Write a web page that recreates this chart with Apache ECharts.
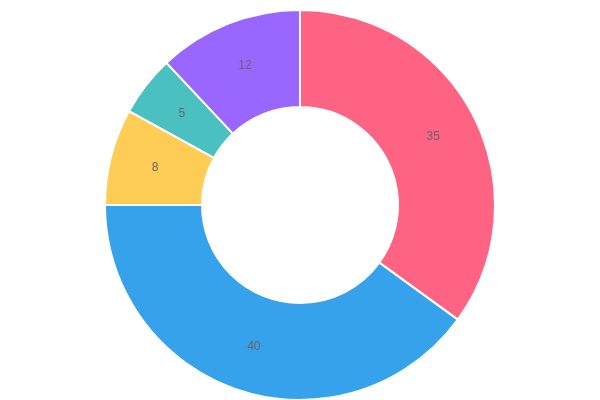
<!DOCTYPE html>
<html>
<head>
    <meta charset="utf-8"/>
    <title>ECharts</title>
    <script src="https://cdn.jsdelivr.net/npm/echarts@6/dist/echarts.min.js"></script>
    <style type="text/css">
        html, body { margin: 0; padding: 0; background: #fff; }
        #main { width: 600px; height: 400px; }
    </style>
</head>
<body>
<div id="main"></div>
<script type="text/javascript">
    var categories = ['A', 'B', 'C', 'D', 'E'];
    var values = [35, 40, 8, 5, 12];
    var colors = ['#ff6384', '#36a2eb', '#ffcd56', '#4bc0c0', '#9966ff'];

    var myChart = echarts.init(document.getElementById('main'));

    var data = [];
    for (var i = 0; i < values.length; i++) {
        data.push({ name: categories[i], value: values[i], itemStyle: { color: colors[i] } });
    }

    var option = {
        animation: false,
        series: [
            {
                type: 'pie',
                center: [300, 205],
                radius: [98, 195],
                startAngle: 90,
                clockwise: true,
                avoidLabelOverlap: false,
                itemStyle: {
                    borderColor: '#fff',
                    borderWidth: 2
                },
                label: {
                    show: true,
                    position: 'inside',
                    formatter: '{c}',
                    color: '#666',
                    fontSize: 12,
                    fontFamily: 'Helvetica Neue, Arial, sans-serif'
                },
                labelLine: { show: false },
                emphasis: { scale: false },
                data: data
            }
        ]
    };
    myChart.setOption(option);
</script>
</body>
</html>
